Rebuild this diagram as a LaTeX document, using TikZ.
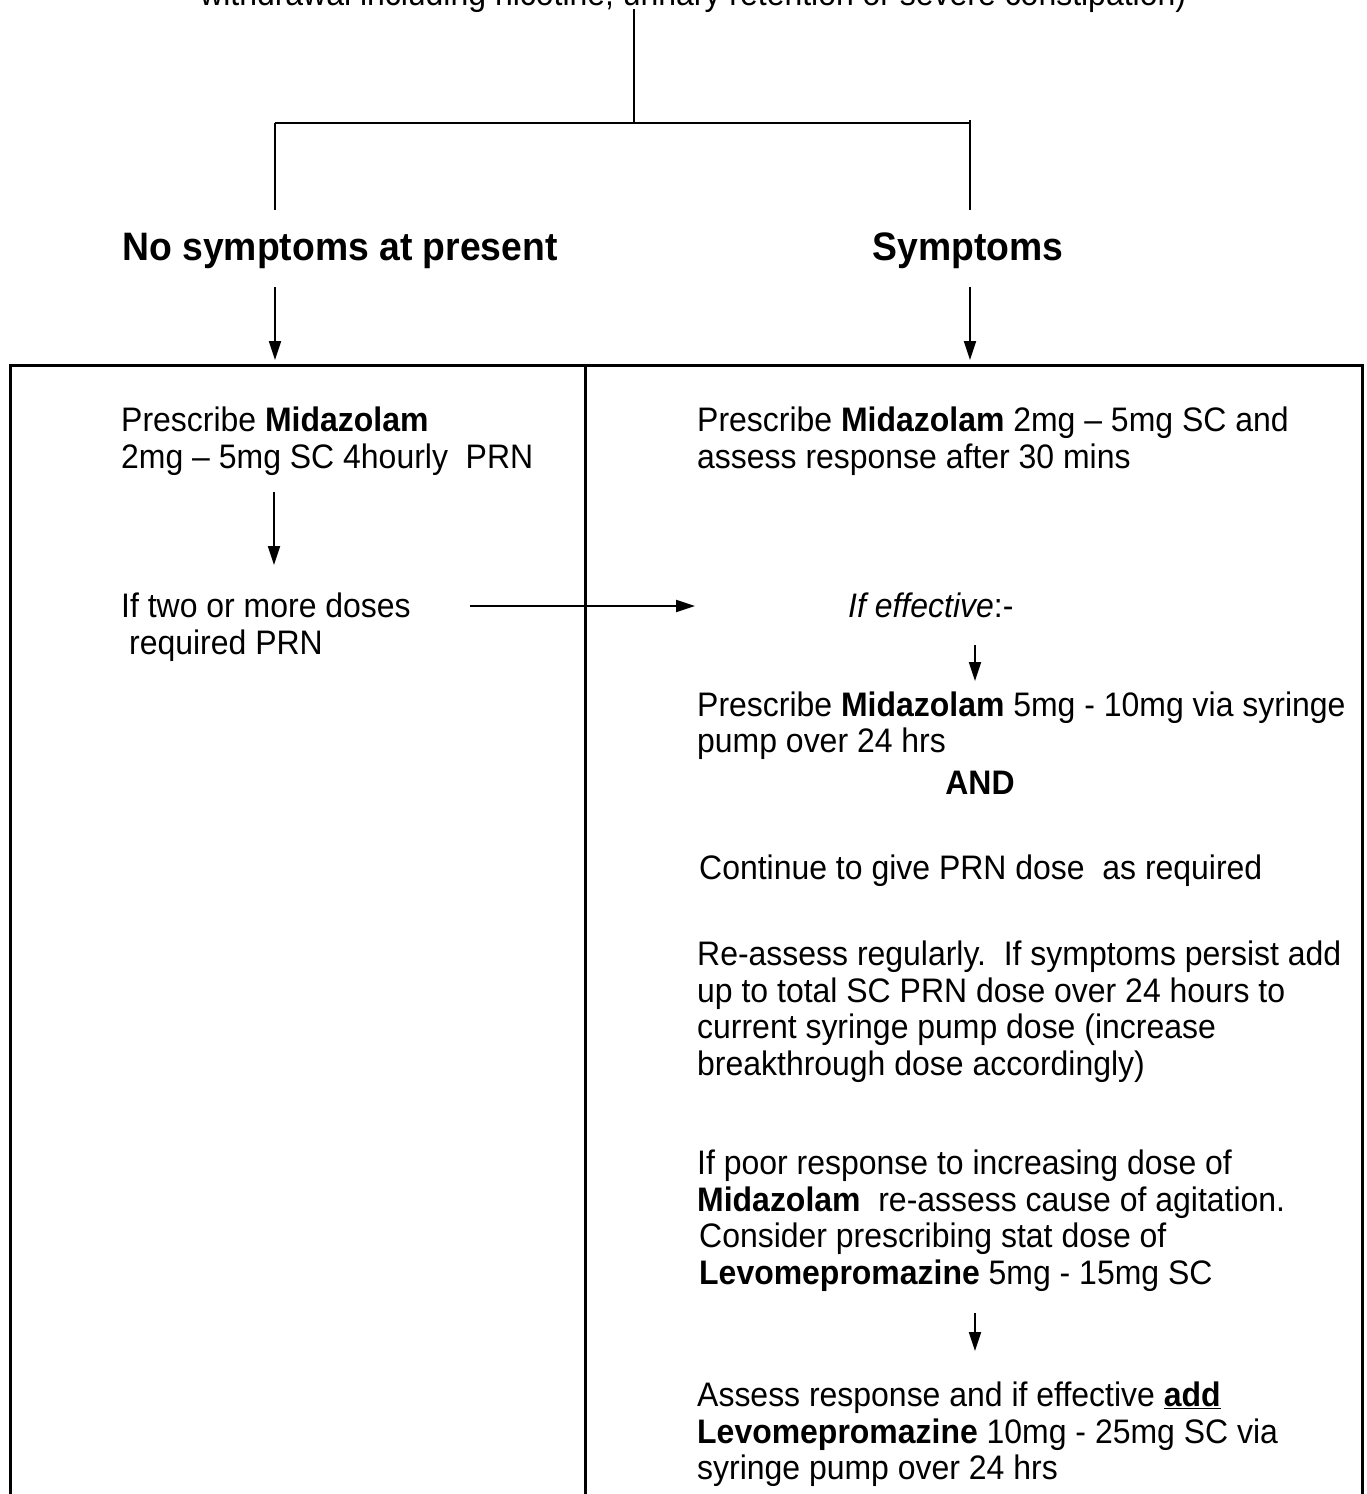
\documentclass[tikz,border=0pt]{standalone}
\usepackage{fontspec}
\setmainfont[FakeStretch=0.94]{Liberation Sans}
\usetikzlibrary{arrows.meta}
\begin{document}
\begin{tikzpicture}[x=1pt,y=-1pt,
  txt/.style={anchor=base west,inner sep=0pt,font=\fontsize{34}{39}\selectfont},
  ctxt/.style={anchor=base,inner sep=0pt,font=\fontsize{34}{39}\selectfont},
  head/.style={anchor=base,inner sep=0pt,font=\fontsize{39.7}{45}\selectfont\bfseries},
  conn/.style={line width=2pt},
  arr/.style={line width=2pt,-{Triangle[length=19pt,width=12pt]}},
  frame/.style={line width=3pt}]
\useasboundingbox (0,0) rectangle (1367,1494);
% top (cut-off) text
\node[txt] (top) at (200,5) {withdrawal including nicotine, urinary retention or severe constipation)};
\coordinate (trunkTop) at (634,9);
\coordinate (trunkBot) at (634,123);
\coordinate (brL) at (275,123);
\coordinate (brR) at (970,123);
\coordinate (brLend) at (275,210);
\coordinate (brRtop) at (970,120);
\coordinate (brRend) at (970,210);
\draw[conn] (trunkTop) -- (trunkBot);
\draw[conn] (brL) -- (brR);
\draw[conn] (brL) -- (brLend);
\draw[conn] (brRtop) -- (brRend);
% headings
\node[head] (noS) at (340,260) {No symptoms at present};
\node[head] (sym) at (968,260) {Symptoms};
\coordinate (aLs) at (275,287);
\coordinate (aLe) at (275,360);
\coordinate (aRs) at (970,287);
\coordinate (aRe) at (970,360);
\draw[arr] (aLs) -- (aLe);
\draw[arr] (aRs) -- (aRe);
% frame
\coordinate (fTL) at (10,1520);
\coordinate (fT) at (10,365);
\coordinate (fTR) at (1362,365);
\coordinate (fBR) at (1362,1520);
\draw[frame] (fTL) -- (fT) -- (fTR) -- (fBR);
\coordinate (dT) at (585,365);
\coordinate (dB) at (585,1520);
\draw[frame] (dT) -- (dB);
% left column
\node[txt] (l1) at (121,431) {Prescribe \textbf{Midazolam}};
\node[txt] (l2) at (121,468) {2mg – 5mg SC 4hourly\ \ PRN};
\coordinate (la1) at (274,492);
\coordinate (la2) at (274,565);
\draw[arr] (la1) -- (la2);
\node[txt] (l3) at (121,617) {If two or more doses};
\node[txt] (l4) at (129,654) {required PRN};
\coordinate (ha1) at (470,606);
\coordinate (ha2) at (695,606);
\draw[arr] (ha1) -- (ha2);
% right column
\node[txt] (r1) at (697,431) {Prescribe \textbf{Midazolam} 2mg – 5mg SC and};
\node[txt] (r2) at (697,468) {assess response after 30 mins};
\node[txt] (eff) at (848,617) {\textit{If effective}:-};
\coordinate (ra1) at (975,645);
\coordinate (ra2) at (975,681);
\draw[arr] (ra1) -- (ra2);
\node[txt] (r3) at (697,716) {Prescribe \textbf{Midazolam} 5mg - 10mg via syringe};
\node[txt] (r4) at (697,752) {pump over 24 hrs};
\node[ctxt] (and) at (980,794) {\textbf{AND}};
\node[txt] (cont) at (699,879) {Continue to give PRN dose\ \ as required};
\node[txt] (re1) at (697,965) {Re-assess regularly.\ \ If symptoms persist add};
\node[txt] (re2) at (697,1002) {up to total SC PRN dose over 24 hours to};
\node[txt] (re3) at (697,1038) {current syringe pump dose (increase};
\node[txt] (re4) at (697,1075) {breakthrough dose accordingly)};
\node[txt] (p1) at (697,1174) {If poor response to increasing dose of};
\node[txt] (p2) at (697,1211) {\textbf{Midazolam}\ \ re-assess cause of agitation.};
\node[txt] (p3) at (699,1247) {Consider prescribing stat dose of};
\node[txt] (p4) at (699,1284) {\textbf{Levomepromazine} 5mg - 15mg SC};
\coordinate (rb1) at (975,1313);
\coordinate (rb2) at (975,1351);
\draw[arr] (rb1) -- (rb2);
\node[txt] (a1) at (697,1406) {Assess response and if effective \underline{\textbf{add}}};
\node[txt] (a2) at (697,1443) {\textbf{Levomepromazine} 10mg - 25mg SC via};
\node[txt] (a3) at (697,1479) {syringe pump over 24 hrs};
\end{tikzpicture}
\end{document}
